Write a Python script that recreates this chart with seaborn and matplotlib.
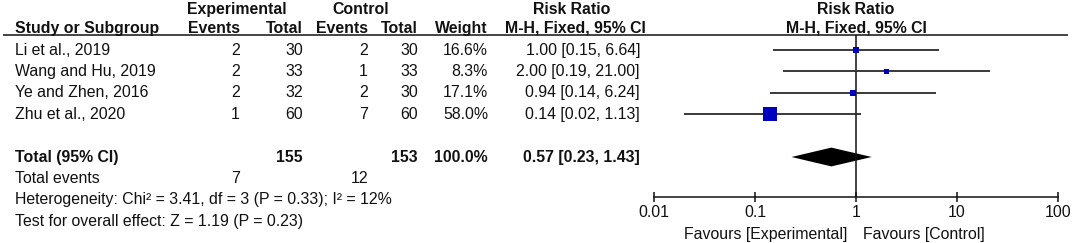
import numpy as np
import pandas as pd
import matplotlib
matplotlib.use("Agg")
import matplotlib.pyplot as plt
import matplotlib.ticker as mticker
import seaborn as sns

# data
studies = ["Li et al., 2019", "Wang and Hu, 2019", "Ye and Zhen, 2016", "Zhu et al., 2020"]
exp_events = [2, 2, 2, 1]
exp_total = [30, 33, 32, 60]
ctrl_events = [2, 1, 2, 7]
ctrl_total = [30, 33, 30, 60]
weights = [16.6, 8.3, 17.1, 58.0]
rr = [1.00, 2.00, 0.94, 0.14]
ci_low = [0.15, 0.19, 0.14, 0.02]
ci_high = [6.64, 21.00, 6.24, 1.13]

total_rr = 0.57
total_low = 0.23
total_high = 1.43
total_exp_n = 155
total_ctrl_n = 153
total_exp_events = 7
total_ctrl_events = 12
heterogeneity = "Heterogeneity: Chi\u00b2 = 3.41, df = 3 (P = 0.33); I\u00b2 = 12%"
overall = "Test for overall effect: Z = 1.19 (P = 0.23)"

tick_values = [0.01, 0.1, 1, 10, 100]
tick_labels = ["0.01", "0.1", "1", "10", "100"]

sns.set_theme(style="white")
plt.rcParams["font.family"] = ["Liberation Sans", "DejaVu Sans"]

W, H = 1072, 243
FS = 11.4
TXT = "#111111"
BLUE = "#0000c0"


def row_y(px):
    """pixel row -> row units used by both axes"""
    return (px - 50) / 21.4


def main():
    fig = plt.figure(figsize=(W / 100, H / 100), dpi=100)
    ylim = (row_y(H), row_y(0))

    # table part, x in pixels, y in row units
    ax_t = fig.add_axes([0, 0, 1, 1])
    ax_t.set_xlim(0, W)
    ax_t.set_ylim(*ylim)
    ax_t.axis("off")

    # forest part, log scale
    x0, x1 = 654, 1058
    ax_f = fig.add_axes([x0 / W, 0, (x1 - x0) / W, 1])
    ax_f.set_xscale("log")
    ax_f.set_xlim(0.01, 100)
    ax_f.set_ylim(*ylim)
    ax_f.patch.set_alpha(0)

    h1, h2 = row_y(9), row_y(28)
    rule = row_y(35)
    axis_y = row_y(197)

    def put(x, y, s, ha="right", bold=False):
        ax_t.text(x, y, s, ha=ha, va="center", fontsize=FS, color=TXT,
                  fontweight="bold" if bold else "normal")

    # headers
    put(237, h1, "Experimental", ha="center", bold=True)
    put(361, h1, "Control", ha="center", bold=True)
    put(572, h1, "Risk Ratio", ha="center", bold=True)
    put(15, h2, "Study or Subgroup", ha="left", bold=True)
    put(240, h2, "Events", bold=True)
    put(303, h2, "Total", bold=True)
    put(368, h2, "Events", bold=True)
    put(418, h2, "Total", bold=True)
    put(488, h2, "Weight", bold=True)
    put(575, h2, "M-H, Fixed, 95% CI", ha="center", bold=True)
    ax_f.text(1, h1, "Risk Ratio", ha="center", va="center", fontsize=FS,
              color=TXT, fontweight="bold")
    ax_f.text(1, h2, "M-H, Fixed, 95% CI", ha="center", va="center",
              fontsize=FS, color=TXT, fontweight="bold")
    ax_t.hlines(rule, 3, 1068, color=TXT, lw=1.1)

    # study rows
    rows = np.arange(len(studies))
    for i, r in enumerate(rows):
        put(15, r, studies[i], ha="left")
        put(240, r, str(exp_events[i]))
        put(303, r, str(exp_total[i]))
        put(368, r, str(ctrl_events[i]))
        put(418, r, str(ctrl_total[i]))
        put(488, r, f"{weights[i]:.1f}%")
        put(640, r, f"{rr[i]:.2f} [{ci_low[i]:.2f}, {ci_high[i]:.2f}]")

    # total rows
    r_tot = len(studies) + 1
    put(15, r_tot, "Total (95% CI)", ha="left", bold=True)
    put(303, r_tot, str(total_exp_n), bold=True)
    put(418, r_tot, str(total_ctrl_n), bold=True)
    put(488, r_tot, "100.0%", bold=True)
    put(640, r_tot, f"{total_rr:.2f} [{total_low:.2f}, {total_high:.2f}]", bold=True)
    put(15, r_tot + 1, "Total events", ha="left")
    put(240, r_tot + 1, str(total_exp_events))
    put(368, r_tot + 1, str(total_ctrl_events))
    put(15, r_tot + 2, heterogeneity, ha="left")
    put(15, r_tot + 3, overall, ha="left")

    # forest marks
    ax_f.vlines(1, rule, axis_y, color=TXT, lw=1.1)
    ax_f.hlines(rows, ci_low, ci_high, color="#2a2a2a", lw=1.3, clip_on=False)
    df = pd.DataFrame({"rr": rr, "row": rows, "w": weights})
    side_px = [2.5 + 0.205 * w for w in weights]
    sizes = {w: (s * 0.72) ** 2 for w, s in zip(weights, side_px)}
    sns.scatterplot(data=df, x="rr", y="row", size="w", sizes=sizes,
                    marker="s", color=BLUE, linewidth=0, legend=False,
                    ax=ax_f, zorder=3, clip_on=False)
    dh = 0.44
    ax_f.fill([total_low, total_rr, total_high, total_rr],
              [r_tot, r_tot - dh, r_tot, r_tot + dh], color="black", lw=0)

    # axis
    for s in ["top", "left", "right"]:
        ax_f.spines[s].set_visible(False)
    ax_f.spines["bottom"].set_position(("data", axis_y))
    ax_f.spines["bottom"].set_bounds(0.01, 100)
    ax_f.spines["bottom"].set_color(TXT)
    ax_f.spines["bottom"].set_linewidth(1.1)
    ax_f.set_xticks(tick_values)
    ax_f.set_xticklabels(tick_labels)
    ax_f.xaxis.set_minor_locator(mticker.NullLocator())
    ax_f.tick_params(axis="x", direction="inout", length=7, width=1.1,
                     color=TXT, labelsize=FS, labelcolor=TXT, pad=2,
                     bottom=True)
    ax_f.set_yticks([])
    ax_f.set_xlabel("")
    ax_f.set_ylabel("")

    fy = row_y(234)
    ax_f.annotate("Favours [Experimental]", (1, fy), xytext=(-6, 0),
                  textcoords="offset points", ha="right", va="center",
                  fontsize=FS, color=TXT)
    ax_f.annotate("Favours [Control]", (1, fy), xytext=(5, 0),
                  textcoords="offset points", ha="left", va="center",
                  fontsize=FS, color=TXT)

    fig.savefig("out.png", dpi=100)
    plt.close(fig)


if __name__ == "__main__":
    main()
